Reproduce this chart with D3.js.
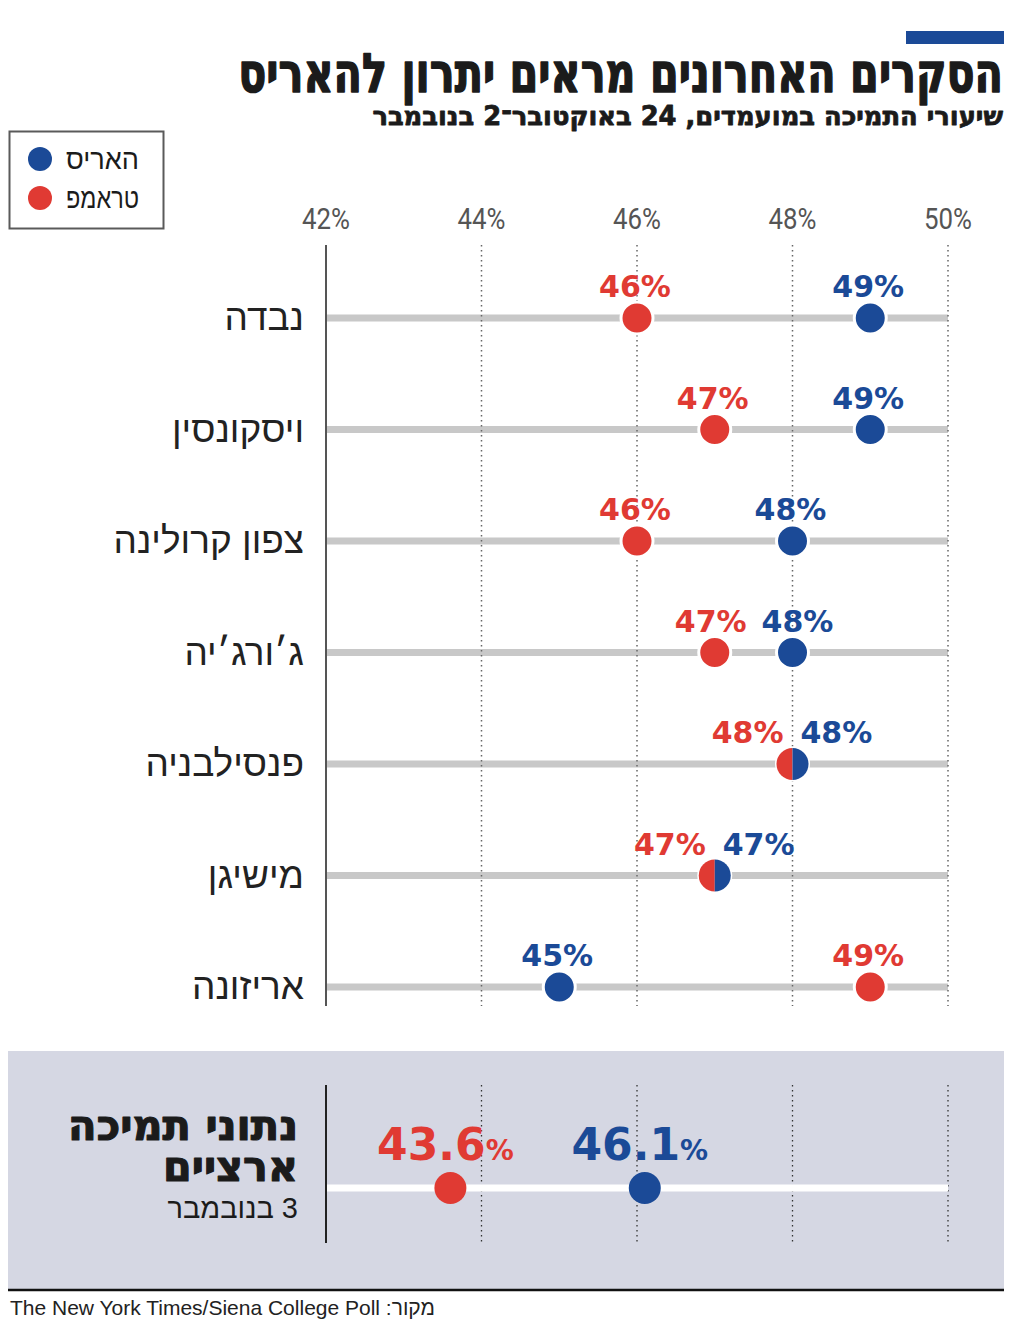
<!DOCTYPE html>
<html><head><meta charset="utf-8">
<script src="https://cdn.jsdelivr.net/npm/d3@7"></script>
<style>body{margin:0;background:#fff} svg{display:block}</style>
</head><body><svg id="c" width="1024" height="1330"></svg>
<script>
// ---- data ----
const states = ["נבדה","ויסקונסין","צפון קרולינה","ג׳ורג׳יה","פנסילבניה","מישיגן","אריזונה"];
const harris = [49,49,48,48,48,47,45];
const trump  = [46,47,46,47,48,47,49];
const tickValues = [42,44,46,48,50];
const seriesNames = ["האריס","טראמפ"];
const nationalTitle = ["נתוני תמיכה","ארציים"];
const nationalDate = "3 בנובמבר";
const nationalHarris = [46.1];
const nationalTrump = [43.6];
const titleText = "הסקרים האחרונים מראים יתרון להאריס";
const subtitleText = "שיעורי התמיכה במועמדים, 24 באוקטובר־2 בנובמבר";
const sourceText = "מקור: The New York Times/Siena College Poll";

// ---- styles ----
const BLUE = "#1b4a97", RED = "#e03a33";
const HEB_BOLD = "'DejaVu Sans', 'Liberation Sans', sans-serif";
const HEB_REG = "'Liberation Sans', 'DejaVu Sans', sans-serif";
const NUM = "'DejaVu Sans', 'Liberation Sans', sans-serif";
const NARROW = "'Liberation Sans Narrow', 'Roboto', sans-serif";

const svg = d3.select("#c");
svg.append("rect").attr("width",1024).attr("height",1330).attr("fill","#fff");

const x = d3.scaleLinear().domain([42,50]).range([326,948]);
const y = d3.scalePoint().domain(states).range([318,987]);

function heb(g, txt, xr, yb, size, weight, family, fill){
  return g.append("text").attr("x",xr).attr("y",yb)
    .style("direction","rtl").attr("text-anchor","start")
    .attr("font-family",family).attr("font-size",size).attr("font-weight",weight)
    .attr("fill",fill).text(txt);
}
// right-aligned Hebrew text horizontally scaled to a target width
function fitHeb(g, txt, xr, yb, size, weight, family, fill, width, strokeW){
  const t = g.append("text").attr("x",0).attr("y",0)
    .style("direction","rtl").attr("text-anchor","start")
    .attr("font-family",family).attr("font-size",size).attr("font-weight",weight)
    .attr("fill",fill).text(txt);
  if(strokeW) t.attr("stroke",fill).attr("stroke-width",strokeW).attr("stroke-linejoin","round");
  const w = t.node().getComputedTextLength();
  t.attr("transform",`translate(${xr},${yb}) scale(${width/w},1)`);
  return t;
}

// top bar
svg.append("rect").attr("x",906).attr("y",31).attr("width",98).attr("height",13).attr("fill",BLUE);
fitHeb(svg, titleText, 1003, 92, 54, 700, HEB_BOLD, "#1b1b1b", 765, 1.6);
fitHeb(svg, subtitleText, 1003, 125, 26, 700, HEB_BOLD, "#1b1b1b", 631, 0.8);

// legend
svg.append("rect").attr("x",9.5).attr("y",131.5).attr("width",154).attr("height",97)
  .attr("fill","none").attr("stroke","#5a5a5a").attr("stroke-width",2);
[BLUE,RED].forEach((c,i)=>{
  svg.append("circle").attr("cx",40).attr("cy",159+i*39).attr("r",12).attr("fill",c);
  fitHeb(svg, seriesNames[i], 139, 169+i*39, 29, 400, HEB_REG, "#1b1b1b", 73);
});

// ticks (condensed)
tickValues.forEach(d=>{
  const t = svg.append("text").attr("x",0).attr("y",0).attr("text-anchor","middle")
    .attr("font-family",NARROW).attr("font-size",30).attr("fill","#555").text(d+"%");
  const w = t.node().getComputedTextLength();
  t.attr("transform",`translate(${x(d)},229) scale(${48/w},1)`);
});

// tracks
svg.append("g").selectAll("line").data(states).join("line")
  .attr("x1",x(42)).attr("x2",x(50)).attr("y1",d=>y(d)).attr("y2",d=>y(d))
  .attr("stroke","#c8c8c8").attr("stroke-width",7);

// gridlines
svg.append("g").selectAll("line").data(tickValues.slice(1)).join("line")
  .attr("x1",d=>x(d)).attr("x2",d=>x(d)).attr("y1",245).attr("y2",1006)
  .attr("stroke","#666").attr("stroke-width",1.5).attr("stroke-dasharray","1.5,3.5");
// axis
svg.append("line").attr("x1",326).attr("x2",326).attr("y1",245).attr("y2",1006)
  .attr("stroke","#555").attr("stroke-width",2);

// category labels
svg.append("g").selectAll("text").data(states).join("text")
  .attr("x",304).attr("y",d=>y(d)+12)
  .style("direction","rtl").attr("text-anchor","start")
  .attr("font-family",HEB_REG).attr("font-size",37).attr("fill","#222")
  .text(d=>d);

// dots and labels
const rows = states.map((s,i)=>({s, h:harris[i], t:trump[i]}));
const dg = svg.append("g");
const arc = d3.arc().innerRadius(0).outerRadius(16);
const LBL = 30;
rows.forEach(r=>{
  const cy = y(r.s);
  if(r.h===r.t){
    const cx = x(r.h);
    dg.append("circle").attr("cx",cx).attr("cy",cy).attr("r",17.5).attr("fill","#fff");
    dg.append("path").attr("transform",`translate(${cx},${cy})`)
      .attr("d",arc({startAngle:Math.PI,endAngle:2*Math.PI})).attr("fill",RED);
    dg.append("path").attr("transform",`translate(${cx},${cy})`)
      .attr("d",arc({startAngle:0,endAngle:Math.PI})).attr("fill",BLUE);
    dg.append("text").attr("x",cx-9).attr("y",cy-21).attr("text-anchor","end")
      .attr("font-family",NUM).attr("font-weight",700).attr("font-size",LBL).attr("fill",RED).text(r.t+"%");
    dg.append("text").attr("x",cx+8).attr("y",cy-21).attr("text-anchor","start")
      .attr("font-family",NUM).attr("font-weight",700).attr("font-size",LBL).attr("fill",BLUE).text(r.h+"%");
  } else {
    const close = Math.abs(r.h-r.t) < 1.5;
    [[r.t,RED],[r.h,BLUE]].forEach(([v,c])=>{
      dg.append("circle").attr("cx",x(v)).attr("cy",cy).attr("r",16)
        .attr("fill",c).attr("stroke","#fff").attr("stroke-width",3);
    });
    [[r.t,RED,r.h],[r.h,BLUE,r.t]].forEach(([v,c,o])=>{
      const off = close ? (v<o ? -4 : 5) : -2;
      dg.append("text").attr("x",x(v)+off).attr("y",cy-21).attr("text-anchor","middle")
        .attr("font-family",NUM).attr("font-weight",700).attr("font-size",LBL).attr("fill",c).text(v+"%");
    });
  }
});

// national panel
svg.append("rect").attr("x",8).attr("y",1051).attr("width",996).attr("height",238).attr("fill","#d5d7e3");
svg.append("line").attr("x1",8).attr("x2",1004).attr("y1",1290).attr("y2",1290)
  .attr("stroke","#111").attr("stroke-width",2.5);
svg.append("g").selectAll("line").data(tickValues.slice(1)).join("line")
  .attr("x1",d=>x(d)).attr("x2",d=>x(d)).attr("y1",1085).attr("y2",1243)
  .attr("stroke","#333").attr("stroke-width",1.3).attr("stroke-dasharray","1.5,3.5");
svg.append("line").attr("x1",x(42)).attr("x2",x(50)).attr("y1",1188).attr("y2",1188)
  .attr("stroke","#fff").attr("stroke-width",7);
svg.append("line").attr("x1",326).attr("x2",326).attr("y1",1085).attr("y2",1243)
  .attr("stroke","#222").attr("stroke-width",2);
[[nationalTrump[0],RED],[nationalHarris[0],BLUE]].forEach(([v,c])=>{
  svg.append("circle").attr("cx",x(v)).attr("cy",1188).attr("r",16).attr("fill",c);
  const t = svg.append("text").attr("x",x(v)-5).attr("y",1160).attr("text-anchor","middle")
    .attr("font-family",NUM).attr("font-weight",700).attr("fill",c);
  t.append("tspan").attr("font-size",44).text(v.toFixed(1));
  t.append("tspan").attr("font-size",28).text("%");
});
fitHeb(svg, nationalTitle[0], 298, 1140, 42, 700, HEB_BOLD, "#1b1b1b", 230, 1.2);
fitHeb(svg, nationalTitle[1], 298, 1181, 42, 700, HEB_BOLD, "#1b1b1b", 135, 1.2);
heb(svg, nationalDate, 298, 1218, 29, 400, HEB_REG, "#1b1b1b");

// source
svg.append("text").attr("x",10).attr("y",1315)
  .style("direction","rtl").attr("text-anchor","end")
  .attr("font-family","'Liberation Sans', Arial, sans-serif").attr("font-size",21).attr("fill","#222")
  .text(sourceText);
</script></body></html>
